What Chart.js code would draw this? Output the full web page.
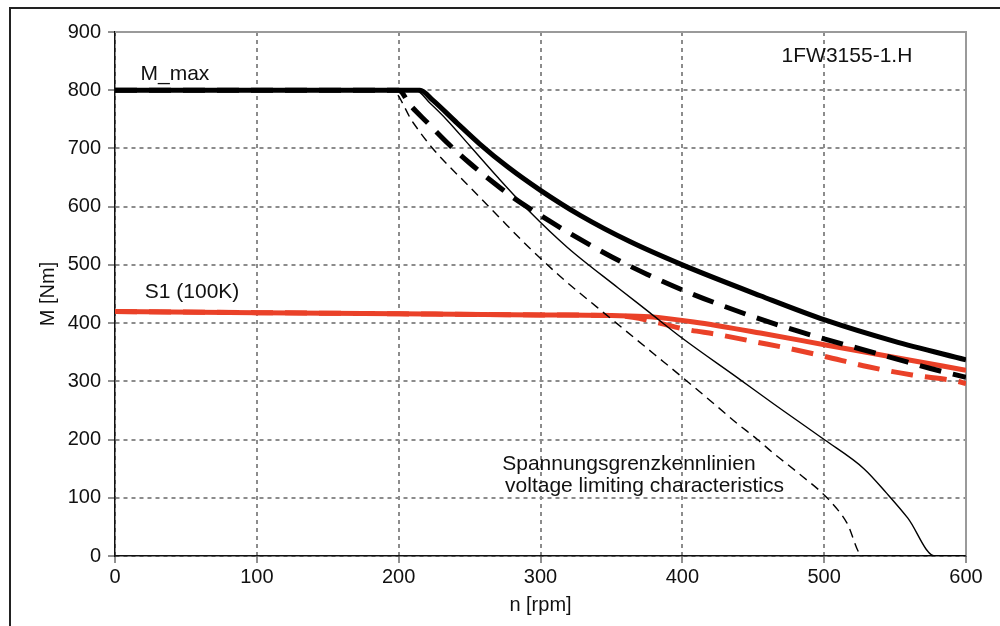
<!DOCTYPE html>
<html>
<head>
<meta charset="utf-8">
<script src="https://cdn.jsdelivr.net/npm/chart.js@4.4.1/dist/chart.umd.min.js"></script>
<style>
  html, body { margin: 0; padding: 0; background: #fff; overflow: hidden; }
  #wrap { position: relative; width: 1000px; height: 626px; }
  #frame { position: absolute; left: 9px; top: 7px; width: 1100px; height: 700px;
           border-left: 2px solid #222; border-top: 2px solid #222; pointer-events: none; }
</style>
</head>
<body>
<div id="wrap">
  <canvas id="chart" width="1000" height="626"></canvas>
  <div id="frame"></div>
</div>
<script>
// speed n [rpm] / torque M [Nm]
const mmaxN = [0, 215, 224, 241, 257, 277, 300, 328, 363, 400, 455, 501, 549, 600];
const mmaxM = [800, 800, 783, 744, 708, 668, 628, 585, 540, 500, 447, 405, 369, 337];

const mmaxDashN = [0, 200, 208, 220, 235, 250, 265, 280, 300, 325, 350, 375, 400, 425, 450, 475, 500, 525, 550, 575, 600];
const mmaxDashM = [800, 800, 775, 745, 708, 675, 645, 617, 585, 548, 514, 484, 457, 433, 411, 391, 373, 356, 339, 322, 307];

const voltN = [0, 212, 222, 234, 250, 270, 293, 319, 355, 377, 400, 439, 464, 500, 528, 544, 559, 578, 600];
const voltM = [800, 800, 778, 749, 705, 650, 590, 530, 460, 418, 374, 306, 262, 200, 150, 108, 65, 0, 0];

const voltDashN = [0, 195, 210, 224, 250, 270, 291, 314, 340, 360, 380, 400, 424, 438, 453, 464, 483, 502, 516, 527, 600];
const voltDashM = [800, 800, 745, 700, 634, 584, 532, 480, 427, 387, 347, 307, 258, 229, 200, 177, 140, 100, 57, 0, 0];

const s1N = [0, 100, 200, 300, 350, 377, 408, 455, 502, 550, 600];
const s1M = [420, 418, 416, 414, 413, 411, 402, 383, 362, 341, 319];

const s1DashN = [0, 100, 200, 300, 350, 365, 384, 401, 426, 451, 476, 500, 531, 562, 594, 600];
const s1DashM = [420, 418, 416, 414, 413, 410, 400, 390, 380, 368, 356, 343, 325, 311, 300, 296];

const xTicks = [0, 100, 200, 300, 400, 500, 600];
const yTicks = [0, 100, 200, 300, 400, 500, 600, 700, 800, 900];

const pts = (ns, ms) => ns.map((n, i) => ({ x: n, y: ms[i] }));
const RED = '#ea4128';
const FONT = '"Liberation Sans", Arial, sans-serif';

const notes = [
  { text: 'M_max', n: 18, m: 818 },
  { text: 'S1 (100K)', n: 21, m: 443 },
  { text: '1FW3155-1.H', n: 470, m: 848 },
  { text: 'Spannungsgrenzkennlinien', n: 273, m: 148 },
  { text: 'voltage limiting characteristics', n: 275, m: 110 }
];

const notePlugin = {
  id: 'notes',
  beforeDatasetsDraw(chart) {
    const { ctx, chartArea: a } = chart;
    ctx.save();
    ctx.strokeStyle = '#9a9a9a';
    ctx.lineWidth = 2;
    ctx.beginPath();
    ctx.moveTo(a.left, a.top);
    ctx.lineTo(a.right, a.top);
    ctx.lineTo(a.right, a.bottom);
    ctx.stroke();
    ctx.restore();
  },
  afterDatasetsDraw(chart) {
    const { ctx, scales: { x, y } } = chart;
    ctx.save();
    ctx.font = '21px ' + FONT;
    ctx.fillStyle = '#111';
    ctx.textBaseline = 'alphabetic';
    notes.forEach(t => ctx.fillText(t.text, x.getPixelForValue(t.n), y.getPixelForValue(t.m)));
    ctx.restore();
  }
};

const line = (data, color, width, dash) => ({
  data: data,
  borderColor: color,
  borderWidth: width,
  borderDash: dash,
  pointRadius: 0,
  fill: false,
  cubicInterpolationMode: 'monotone',
  borderCapStyle: 'butt'
});

new Chart(document.getElementById('chart'), {
  type: 'line',
  data: {
    datasets: [
      line(pts(mmaxN, mmaxM), '#000', 5, []),
      line(pts(mmaxDashN, mmaxDashM), '#000', 5, [22, 12]),
      line(pts(voltN, voltM), '#000', 1.4, []),
      line(pts(voltDashN, voltDashM), '#000', 1.4, [9, 6]),
      line(pts(s1N, s1M), RED, 5, []),
      line(pts(s1DashN, s1DashM), RED, 5, [22, 12])
    ]
  },
  options: {
    responsive: false,
    animation: false,
    layout: { padding: { left: 0, right: 34, top: 32, bottom: 0 } },
    plugins: { legend: { display: false }, tooltip: { enabled: false } },
    scales: {
      x: {
        type: 'linear', min: 0, max: 600,
        afterFit(s) { s.height = 70; },
        afterBuildTicks(s) { s.ticks = xTicks.map(v => ({ value: v })); },
        grid: { color: '#8c8c8c', lineWidth: 2, tickLength: 7, tickColor: '#222', tickWidth: 1, tickBorderDash: [] },
        border: { color: '#111', width: 1.5, dash: [4, 4] },
        ticks: { color: '#111', font: { family: FONT, size: 20 }, padding: 2, maxRotation: 0 },
        title: { display: true, text: 'n [rpm]', color: '#111', font: { family: FONT, size: 20 }, padding: { top: 0, bottom: 9 } }
      },
      y: {
        type: 'linear', min: 0, max: 900,
        afterFit(s) { s.width = 115; },
        afterBuildTicks(s) { s.ticks = yTicks.map(v => ({ value: v })); },
        grid: { color: '#8c8c8c', lineWidth: 2, tickLength: 7, tickColor: '#222', tickWidth: 1, tickBorderDash: [] },
        border: { color: '#111', width: 1.5, dash: [4, 4] },
        ticks: { color: '#111', font: { family: FONT, size: 20 }, padding: 7 },
        title: { display: true, text: 'M [Nm]', color: '#111', font: { family: FONT, size: 20 }, padding: { top: 36, bottom: 0 } }
      }
    }
  },
  plugins: [notePlugin]
});
</script>
</body>
</html>
